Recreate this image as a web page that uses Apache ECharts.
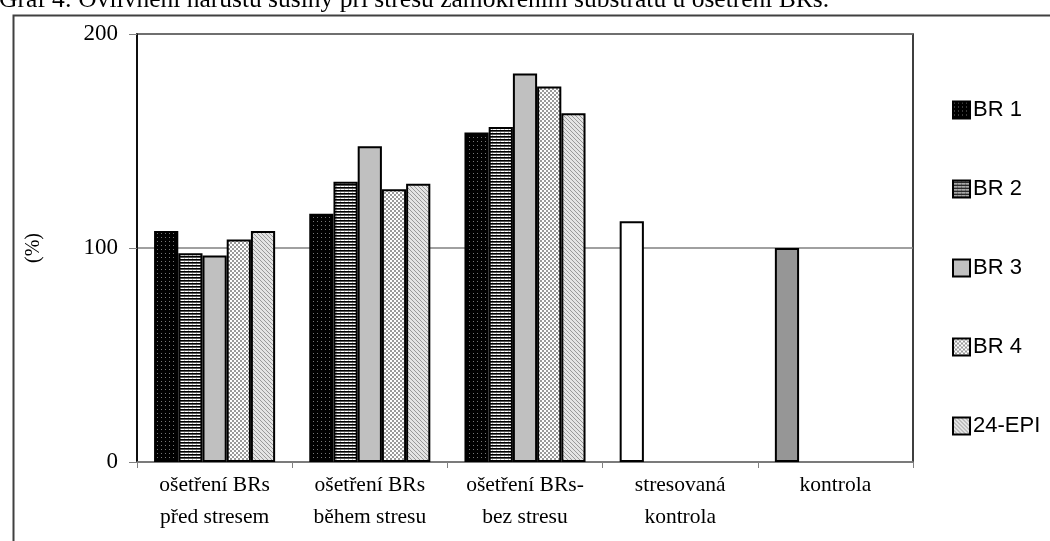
<!DOCTYPE html>
<html><head><meta charset="utf-8">
<script src="https://cdn.jsdelivr.net/npm/echarts@6/dist/echarts.min.js"></script>
<style>html,body{margin:0;padding:0;background:#fff}#c{width:1050px;height:541px}</style>
</head><body><div id="c"></div>
<script>
const titleText = 'Graf 4: Ovlivnění nárůstu sušiny při stresu zamokřením substrátu u ošetření BRs.';
const categories = ['ošetření BRs\npřed stresem', 'ošetření BRs\nběhem stresu', 'ošetření BRs-\nbez stresu', 'stresovaná\nkontrola', 'kontrola'];
const seriesNames = ['BR 1', 'BR 2', 'BR 3', 'BR 4', '24-EPI'];
const br1 = [108, 116, 154, 112.5, 100];
const br2 = [97.5, 131, 156.5, null, null];
const br3 = [96.5, 147.5, 181.5, null, null];
const br4 = [104, 127.5, 175.5, null, null];
const epi = [108, 130, 163, null, null];
const yTicks = [0, 100, 200];

function tile(w, h, draw) {
  const c = document.createElement('canvas');
  c.width = w; c.height = h;
  const g = c.getContext('2d');
  draw(g);
  return { image: c, repeat: 'repeat' };
}
const patBR1 = tile(4, 4, g => { g.fillStyle = '#000'; g.fillRect(0,0,4,4); g.fillStyle = '#777'; g.fillRect(1,1,1,1); });
const patBR2 = tile(4, 3, g => { g.fillStyle = '#fff'; g.fillRect(0,0,4,3); g.fillStyle = '#000'; g.fillRect(0,1,4,1); g.fillStyle = '#555'; g.fillRect(0,2,4,1); g.fillStyle='#bbb'; g.fillRect(0,0,1,1); });
const patBR4 = tile(4, 4, g => { g.fillStyle = '#fff'; g.fillRect(0,0,4,4); g.fillStyle = '#9a9a9a'; g.fillRect(0,0,2,2); g.fillRect(2,2,2,2); });
const patEPI = tile(4, 4, g => { g.fillStyle = '#e4e4e4'; g.fillRect(0,0,4,4); g.fillStyle = '#999'; for (let i=0;i<4;i++) g.fillRect(i,i,1,1); });
const fills = [patBR1, patBR2, '#c0c0c0', patBR4, patEPI];

const br1Data = br1.map((v, i) => {
  if (i === 3) return { value: v, itemStyle: { color: '#ffffff' } };
  if (i === 4) return { value: v, itemStyle: { color: '#969696' } };
  return v;
});
const allData = [br1Data, br2, br3, br4, epi];

const chart = echarts.init(document.getElementById('c'), null, { renderer: 'canvas' });
chart.setOption({
  animation: false,
  backgroundColor: '#fff',
  title: {
    text: titleText, left: -1, top: -13, padding: 0,
    textStyle: { fontFamily: 'Liberation Serif', fontSize: 25.5, fontWeight: 'normal', color: '#000' }
  },
  graphic: [{
    type: 'rect', left: 11, top: 13, silent: true,
    shape: { width: 1200, height: 700 },
    style: { fill: 'none', stroke: '#404040', lineWidth: 2 }
  }],
  grid: { left: 137, right: 137, top: 34, bottom: 79, show: true, borderColor: '#000', borderWidth: 1.5, backgroundColor: 'transparent' },
  legend: {
    orient: 'vertical', left: 952, top: 99, itemGap: 57, itemWidth: 17, itemHeight: 17,
    icon: 'rect', padding: 0,
    textStyle: { fontFamily: 'Liberation Sans', fontSize: 22, lineHeight: 17, color: '#000', padding: [0, 0, 0, -2] },
    data: seriesNames
  },
  xAxis: {
    type: 'category', data: categories,
    axisLine: { lineStyle: { color: '#808080', width: 1.5 } },
    axisTick: { show: true, length: 6, lineStyle: { color: '#808080' } },
    axisLabel: { interval: 0, fontFamily: 'Liberation Serif', fontSize: 21.5, color: '#000', lineHeight: 32, margin: 7 }
  },
  yAxis: {
    type: 'value', min: 0, max: 200, interval: 100,
    name: '(%)', nameLocation: 'middle', nameGap: 93, nameRotate: 90,
    nameTextStyle: { fontFamily: 'Liberation Serif', fontSize: 20, color: '#000' },
    axisLine: { show: true, lineStyle: { color: '#000', width: 1.5 } },
    axisTick: { show: true, length: 8, lineStyle: { color: '#808080' } },
    axisLabel: { fontFamily: 'Liberation Serif', fontSize: 23, color: '#000', margin: 19,
      formatter: v => yTicks.includes(v) ? String(v) : '' },
    splitLine: { show: true, lineStyle: { color: '#808080', width: 1.5 } }
  },
  series: seriesNames.map((n, i) => ({
    name: n, type: 'bar', data: allData[i],
    barGap: '0%', barCategoryGap: '22%',
    itemStyle: { color: fills[i], borderColor: '#000', borderWidth: 2 }
  }))
});
</script></body></html>
